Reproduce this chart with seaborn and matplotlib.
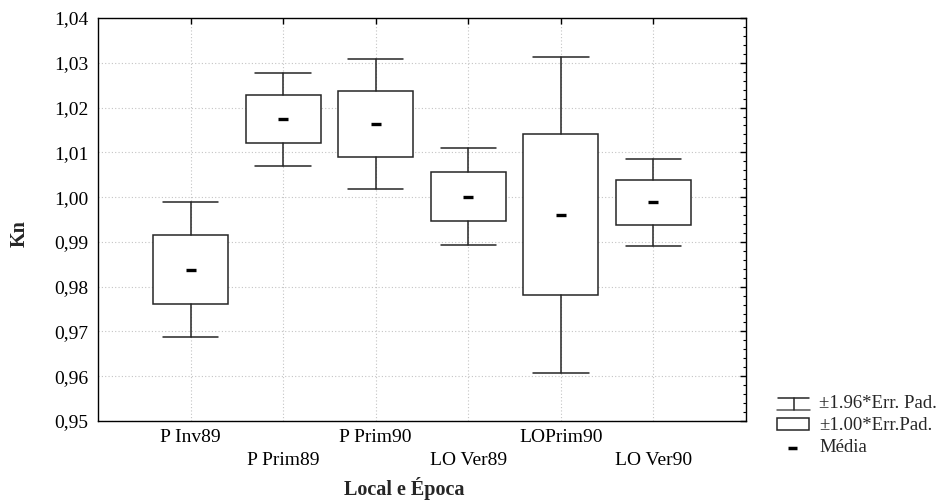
import numpy as np
import pandas as pd
import matplotlib
matplotlib.use("Agg")
import matplotlib.pyplot as plt
from matplotlib.patches import Rectangle
from matplotlib.ticker import FixedLocator, MultipleLocator, NullLocator
import seaborn as sns

# Kn por local e época: média e erro padrão
locais = ["P Inv89", "P Prim89", "P Prim90", "LO Ver89", "LOPrim90", "LO Ver90"]
media = [0.9838, 1.0174, 1.0163, 1.0001, 0.9961, 0.9988]
err_pad = [0.0077, 0.0053, 0.0074, 0.0055, 0.0180, 0.0050]

y_ticks = [0.95, 0.96, 0.97, 0.98, 0.99, 1.00, 1.01, 1.02, 1.03, 1.04]
y_tick_labels = ["0,95", "0,96", "0,97", "0,98", "0,99",
                 "1,00", "1,01", "1,02", "1,03", "1,04"]
legend_labels = ["±1.96*Err. Pad.", "±1.00*Err.Pad.", "Média"]

sns.set_style("white")
plt.rcParams["font.family"] = ["Liberation Serif", "DejaVu Serif"]

fig = plt.figure(figsize=(9.44, 5.0), dpi=100)
ax = fig.add_axes([98 / 944, 1 - 421 / 500, (746 - 98) / 944, (421 - 18) / 500])

df = pd.DataFrame({"local": locais, "media": media, "err": err_pad})

line_col = "#262626"

# caixas: média ± 1 EP; bigodes: média ± 1.96 EP
stats = [
    dict(med=m, q1=m - e, q3=m + e, whislo=m - 1.96 * e, whishi=m + 1.96 * e, label=l)
    for l, m, e in zip(df["local"], df["media"], df["err"])
]
ax.bxp(
    stats,
    positions=np.arange(len(stats)),
    widths=0.81,
    capwidths=0.6,
    showfliers=False,
    patch_artist=True,
    manage_ticks=False,
    boxprops=dict(facecolor="white", edgecolor=line_col, linewidth=1.1),
    whiskerprops=dict(color=line_col, linewidth=1.1),
    capprops=dict(color=line_col, linewidth=1.1),
    medianprops=dict(visible=False),
    zorder=3,
)

# marcador da média
sns.pointplot(
    data=df, x="local", y="media", order=locais,
    linestyle="none", marker="_", markersize=7.5, markeredgewidth=2.4,
    color="black", errorbar=None, ax=ax, zorder=5,
)

ax.set_xlim(-1, len(locais))
ax.set_ylim(y_ticks[0], y_ticks[-1])
ax.set_xticks(np.arange(len(locais)))
ax.set_xticklabels(locais)
ax.xaxis.set_minor_locator(NullLocator())
ax.yaxis.set_major_locator(FixedLocator(y_ticks))
ax.set_yticklabels(y_tick_labels)
ax.yaxis.set_minor_locator(MultipleLocator(0.002))

ax.grid(True, which="major", linestyle=(0, (1, 2)), color="#c4c4c4", linewidth=0.8)
ax.set_axisbelow(True)

for s in ax.spines.values():
    s.set_color("black")
    s.set_linewidth(1.0)

ax.tick_params(axis="both", which="both", direction="in", top=True, right=True,
               colors="black")
ax.tick_params(which="major", length=4, width=1)
ax.tick_params(which="minor", length=2, width=0.8)
ax.tick_params(axis="y", which="major", pad=7, labelsize=14)
ax.tick_params(axis="x", which="major", pad=5.5, labelsize=14)
for t in ax.xaxis.get_major_ticks()[1::2]:
    t.set_pad(5.5 + 17.0)

ax.set_xlabel("Local e Época", fontsize=14.5, fontweight="bold")
ax.xaxis.label.set_va("center")
ax.xaxis.set_label_coords(0.472, -0.167)
ax.set_ylabel("Kn", fontsize=14.5, fontweight="bold")
ax.yaxis.set_label_coords(-0.106, 0.464)

# legenda
lax = fig.add_axes([770 / 944, 1 - 460 / 500, 174 / 944, 70 / 500])
lax.set_xlim(770, 944)
lax.set_ylim(460, 390)
lax.axis("off")
lax.plot([778, 809], [398, 398], color=line_col, lw=1.1)
lax.plot([777, 810], [410, 410], color="#555555", lw=1.1)
lax.plot([793.5, 793.5], [398, 410], color=line_col, lw=1.1)
lax.add_patch(Rectangle((777, 418), 32, 12, facecolor="white", edgecolor=line_col, lw=1.1))
lax.plot([788, 797], [448, 448], color="black", lw=2.5, solid_capstyle="butt")
for yy, txt in zip([403, 425, 448], legend_labels):
    lax.text(819, yy, txt, fontsize=13.5, va="center", ha="left")

fig.savefig("out.png", dpi=100)
